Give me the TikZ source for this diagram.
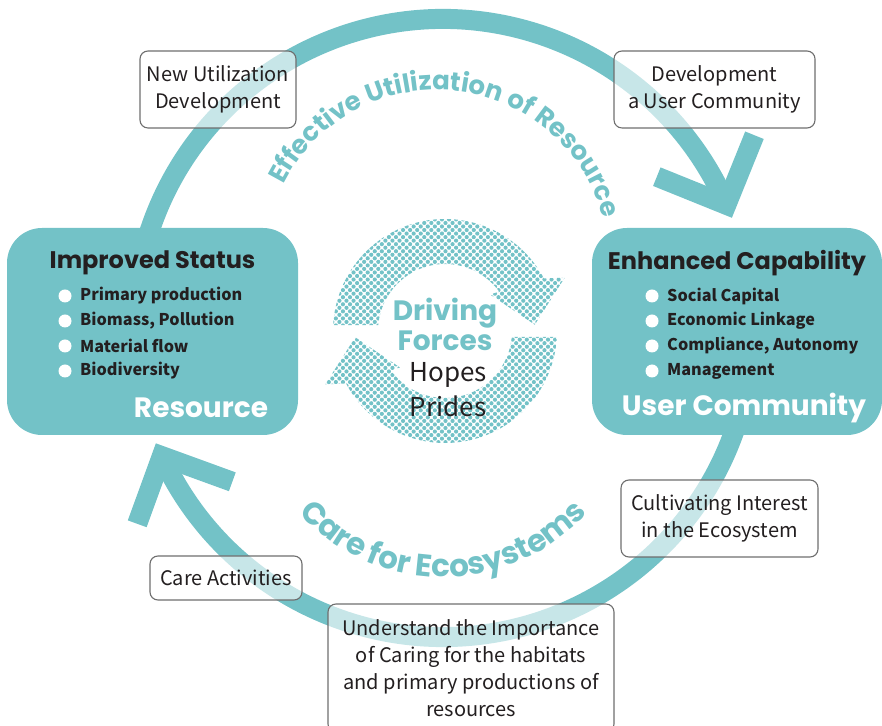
\documentclass[tikz,border=0pt]{standalone}
\usepackage{fontspec}
\usepackage{tikz}
\usetikzlibrary{positioning,decorations.text,patterns.meta}
\setmainfont{Noto Sans CJK JP}
\newfontfamily\geofont{Poppins}
\definecolor{ringteal}{RGB}{115,194,199}
\definecolor{inkgray}{RGB}{35,31,32}
\definecolor{edgegray}{RGB}{110,110,110}

\begin{document}
\begin{tikzpicture}[x=1pt,y=1pt,
	ring/.style={line width=20pt,draw=ringteal},
	bigbox/.style={fill=ringteal,rounded corners=35pt},
	note/.style={draw=edgegray,line width=1.1pt,fill=white,fill opacity=0.6,text opacity=1,
		rounded corners=8pt,align=center,text=inkgray,font=\fontsize{20}{27}\selectfont},
	dot/.style={circle,fill=white,inner sep=0pt,minimum size=13pt},
	item/.style={anchor=west,inner sep=0pt,text=inkgray,font=\bfseries\fontsize{16.2}{20}\selectfont},
	title/.style={text=inkgray,font=\geofont\bfseries\fontsize{24}{28}\selectfont},
	tag/.style={text=white,font=\geofont\bfseries\fontsize{28}{32}\selectfont},
	halftone/.style={pattern={Dots[radius=2.1pt,distance=5pt,angle=45]},pattern color=ringteal}]
\useasboundingbox (0,0) rectangle (882,725);

% outer cycle
\coordinate (c) at (443,397);
\draw[ring] (c) ++(162:309) coordinate (top0) arc[start angle=162,end angle=23.5,radius=309] coordinate (top1);
\draw[ring] (top1) ++(158:75) -- (top1) -- ++(68:75);
\draw[ring] (c) ++(-18:309) coordinate (bot0) arc[start angle=-18,end angle=-155.5,radius=309] coordinate (bot1);
\draw[ring] (bot1) ++(-110:72) -- (bot1) -- ++(-20:75);

% the two sides
\node[bigbox,minimum width=291pt,minimum height=207pt] (res) at (152.5,393.5) {};
\node[bigbox,minimum width=290pt,minimum height=207pt] (usr) at (737,393.5) {};
\node[title] (resT) at ([yshift=-35pt]res.north) {Improved Status};
\node[title] (usrT) at ([yshift=-35pt]usr.north) {Enhanced Capability};
\foreach \t [count=\i] in {Primary production,{Biomass, Pollution},Material flow,Biodiversity}{
	\node[dot] at (65,454-25*\i) {};
	\node[item] at (80,454-25*\i) {\t};
}
\foreach \t [count=\i] in {Social Capital,Economic Linkage,{Compliance, Autonomy},Management}{
	\node[dot] at (652,454-25*\i) {};
	\node[item] at (667,454-25*\i) {\t};
}
\node[tag] (resL) at (201,317) {Resource};
\node[tag] (usrL) at (744,317) {User Community};

% driving forces
\begin{scope}[shift={(445,394)}]
\foreach \r in {0,180}
	\path[halftone,rotate=\r] (177:112) arc[start angle=177,end angle=28,radius=112]
		-- (24:131) -- (4:90) -- (39:58) -- (36:67) arc[start angle=36,end angle=175,radius=67] -- cycle;
\end{scope}
\node[align=center,text=ringteal,font=\geofont\bfseries\fontsize{28}{30}\selectfont] (df) at (445,401) {Driving\\Forces};
\node[align=center,text=inkgray,font=\fontsize{26}{35}\selectfont] (hp) at (448,335) {Hopes\\Prides};

% curved captions
\path[shift={(437,463)},decorate,decoration={text along path,text align=center,
	text={|\geofont\bfseries\fontsize{26}{26}\selectfont\color{ringteal}|Effective Utilization of Resource}}]
	(164:172) arc[start angle=164,end angle=4,radius=172];
\path[shift={(443,343)},decorate,decoration={text along path,text align=center,
	text={|\geofont\bfseries\fontsize{31}{31}\selectfont\color{ringteal}|Care for Ecosystems}}]
	(200:195) arc[start angle=200,end angle=340,radius=195];

% steps
\node[note,minimum width=156pt,minimum height=77pt] (nu) at (218,635.5) {New Utilization\\Development};
\node[note,minimum width=201pt,minimum height=77pt] (du) at (714.5,635.5) {Development\\a User Community};
\node[note,minimum width=197pt,minimum height=77pt] (ci) at (719.5,206.5) {Cultivating Interest\\in the Ecosystem};
\node[note,minimum width=152pt,minimum height=44pt] (ca) at (226,147) {Care Activities};
\node[note,minimum width=286pt,minimum height=128pt] (ui) at (471,57) {Understand the Importance\\of Caring for the habitats\\and primary productions of\\resources};
\end{tikzpicture}
\end{document}
